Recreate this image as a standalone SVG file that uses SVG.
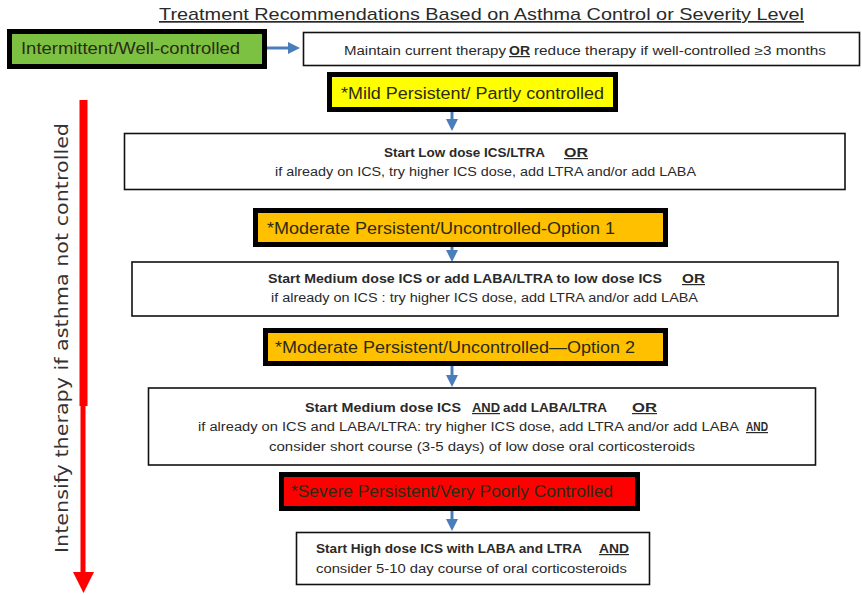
<svg xmlns="http://www.w3.org/2000/svg" width="862" height="595" viewBox="0 0 862 595">
<defs>
<style>
.t{font-family:"Liberation Sans Narrow","Liberation Sans",Arial,sans-serif;fill:#2a2a2a}
.h{font-size:16px;fill:#2b2b14}
.b{font-size:12px}
.bb{font-size:12px;font-weight:bold}
.u{text-decoration:underline}
.hb{stroke:#000;stroke-width:5}
.wb{fill:#fff;stroke:#111;stroke-width:1.6}
.con{stroke:#4a7ebb;stroke-width:3;fill:none}
</style>
<marker id="ah" markerWidth="4" markerHeight="4" refX="2" refY="2" orient="auto" markerUnits="strokeWidth">
<path d="M0,0 L4,2 L0,4 Z" fill="#4a7ebb"/>
</marker>
</defs>
<rect width="862" height="595" fill="#fff"/>

<text class="t" x="159" y="20" font-size="17" textLength="645" lengthAdjust="spacingAndGlyphs" fill="#333" text-decoration="underline">Treatment Recommendations Based on Asthma Control or Severity Level</text>

<g id="intensify">
<rect x="79.5" y="100" width="8" height="306" fill="#ff0000"/>
<rect x="80.5" y="404" width="5" height="170" fill="#ff0000"/>
<polygon points="73,572 94,572 83.5,593" fill="#ff0000"/>
<text x="68" y="553" transform="rotate(-90 68 553)" font-family="'DejaVu Sans',Verdana,sans-serif" font-size="18" fill="#333" textLength="430" lengthAdjust="spacingAndGlyphs">Intensify therapy if asthma not controlled</text>
</g>

<g id="connectors">
<line class="con" x1="267" y1="48" x2="294" y2="48" stroke-width="2.5" marker-end="url(#ah)"/>
<line class="con" x1="452" y1="112" x2="452" y2="125" marker-end="url(#ah)"/>
<line class="con" x1="452" y1="247" x2="452" y2="256" marker-end="url(#ah)"/>
<line class="con" x1="452" y1="366" x2="452" y2="381" marker-end="url(#ah)"/>
<line class="con" x1="452" y1="511" x2="452" y2="525" marker-end="url(#ah)"/>
</g>

<g id="intermittent">
<rect class="hb" x="9.5" y="31.5" width="255" height="35" fill="#7dc142"/>
<text class="t h" x="21" y="54" textLength="219" lengthAdjust="spacingAndGlyphs">Intermittent/Well-controlled</text>
</g>

<g id="maintain">
<rect class="wb" x="303.5" y="32.5" width="556" height="33"/>
<text class="t b" x="344" y="55" textLength="162" lengthAdjust="spacingAndGlyphs">Maintain current therapy</text>
<text class="t bb u" x="509" y="55" textLength="21" lengthAdjust="spacingAndGlyphs">OR</text>
<text class="t b" x="534" y="55" textLength="292" lengthAdjust="spacingAndGlyphs">reduce therapy if well-controlled ≥3 months</text>
</g>

<g id="mild">
<rect class="hb" x="329.5" y="74.5" width="286" height="35" fill="#ffff00"/>
<text class="t h" x="341" y="99" textLength="263" lengthAdjust="spacingAndGlyphs">*Mild Persistent/ Partly controlled</text>
</g>

<g id="step-low">
<rect class="wb" x="124.5" y="133.5" width="720.5" height="56"/>
<text class="t bb" x="384" y="157" textLength="161" lengthAdjust="spacingAndGlyphs">Start Low dose ICS/LTRA</text>
<text class="t bb u" x="564" y="157" font-size="14" textLength="24" lengthAdjust="spacingAndGlyphs">OR</text>
<text class="t b" x="275" y="176" textLength="421" lengthAdjust="spacingAndGlyphs">if already on ICS, try higher ICS dose, add LTRA and/or add LABA</text>
</g>

<g id="moderate1">
<rect class="hb" x="255.5" y="210.5" width="410" height="34" fill="#ffc000"/>
<text class="t h" x="267" y="234" textLength="348" lengthAdjust="spacingAndGlyphs">*Moderate Persistent/Uncontrolled-Option 1</text>
</g>

<g id="step-medium">
<rect class="wb" x="132" y="262" width="706" height="54"/>
<text class="t bb" x="268" y="283" textLength="394" lengthAdjust="spacingAndGlyphs">Start Medium dose ICS  or add LABA/LTRA to low dose ICS</text>
<text class="t bb u" x="682" y="283" font-size="14" textLength="23" lengthAdjust="spacingAndGlyphs">OR</text>
<text class="t b" x="271" y="302" textLength="427" lengthAdjust="spacingAndGlyphs">if already on ICS : try higher ICS dose, add LTRA and/or add LABA</text>
</g>

<g id="moderate2">
<rect class="hb" x="265.5" y="330.5" width="400" height="33" fill="#ffc000"/>
<text class="t h" x="275" y="353" textLength="360" lengthAdjust="spacingAndGlyphs">*Moderate Persistent/Uncontrolled—Option 2</text>
</g>

<g id="step-medium-laba">
<rect class="wb" x="148.5" y="388" width="667" height="77"/>
<text class="t bb" x="305" y="412" textLength="156" lengthAdjust="spacingAndGlyphs">Start Medium dose ICS</text>
<text class="t bb u" x="472" y="412" textLength="28" lengthAdjust="spacingAndGlyphs">AND</text>
<text class="t bb" x="503" y="412" textLength="104" lengthAdjust="spacingAndGlyphs">add LABA/LTRA</text>
<text class="t bb u" x="632" y="412" font-size="14" textLength="25" lengthAdjust="spacingAndGlyphs">OR</text>
<text class="t b" x="198" y="431" textLength="541" lengthAdjust="spacingAndGlyphs">if already on ICS and LABA/LTRA: try higher ICS dose, add LTRA and/or add LABA</text>
<text class="t bb u" x="746" y="431" textLength="22" lengthAdjust="spacingAndGlyphs">AND</text>
<text class="t b" x="269" y="451" textLength="426" lengthAdjust="spacingAndGlyphs">consider short course (3-5 days) of low dose oral corticosteroids</text>
</g>

<g id="severe">
<rect class="hb" x="281.5" y="474.5" width="356" height="34" fill="#ff0000"/>
<text class="t h" x="291" y="497" textLength="322" lengthAdjust="spacingAndGlyphs">*Severe Persistent/Very Poorly Controlled</text>
</g>

<g id="step-high">
<rect class="wb" x="296.5" y="532.5" width="353" height="52"/>
<text class="t bb" x="316" y="553" textLength="266" lengthAdjust="spacingAndGlyphs">Start High dose ICS with LABA and LTRA</text>
<text class="t bb u" x="599" y="553" textLength="30" lengthAdjust="spacingAndGlyphs">AND</text>
<text class="t b" x="316" y="573" textLength="311" lengthAdjust="spacingAndGlyphs">consider 5-10 day course of oral corticosteroids</text>
</g>
</svg>
